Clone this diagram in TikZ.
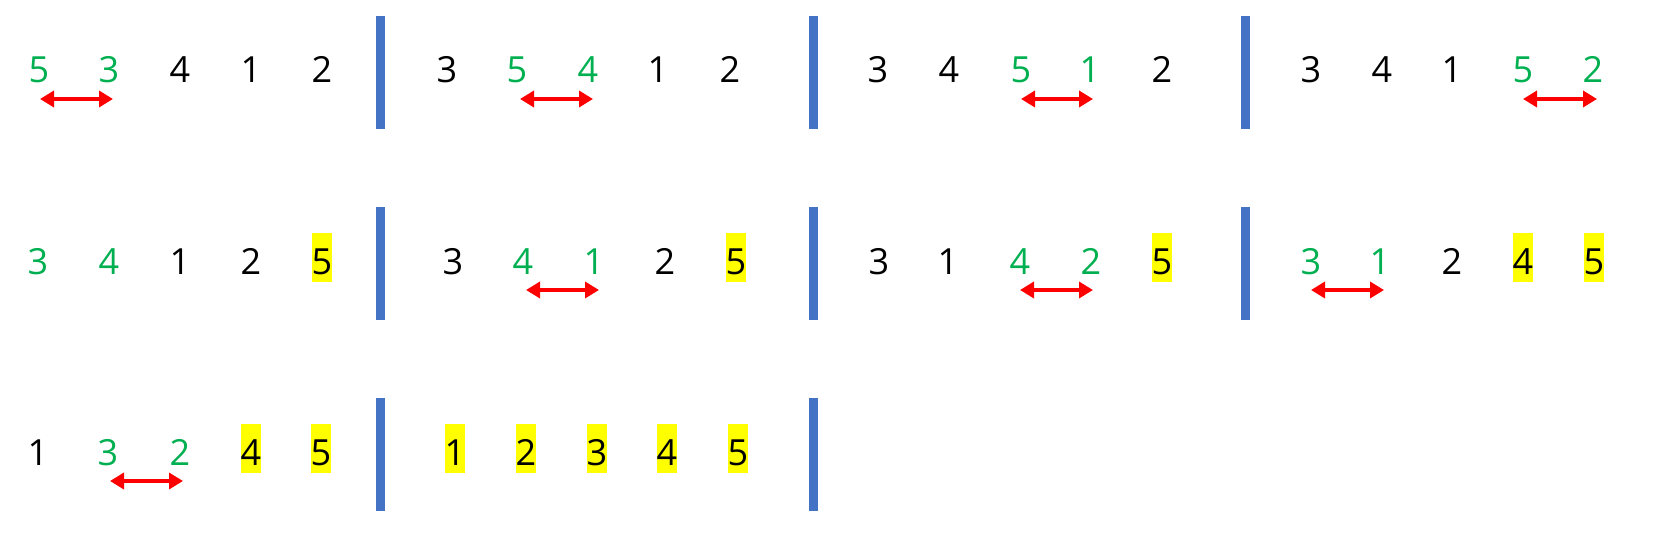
\documentclass[tikz,border=0pt]{standalone}
\usepackage{fontspec}
\setmainfont{Open Sans}
\usetikzlibrary{arrows.meta}
\definecolor{grn}{HTML}{00B050}
\definecolor{barblue}{HTML}{4472C4}
\definecolor{hlyellow}{HTML}{FFFF00}
\definecolor{arrred}{HTML}{FF0000}
\tikzset{
  dig/.style={anchor=base, inner sep=0pt, minimum width=20pt, text height=41pt, text depth=7.5pt, font=\fontsize{36}{40}\selectfont, text=black},
  gd/.style={dig, text=grn},
  hl/.style={dig, fill=hlyellow},
  sepbar/.style={fill=barblue, inner sep=0pt, minimum width=9pt, minimum height=113pt, anchor=north},
  swaparrow/.style={draw=arrred, line width=4.5pt, {Triangle[length=14pt,width=16pt]}-{Triangle[length=14pt,width=16pt]}}
}
\begin{document}
\begin{tikzpicture}[x=1pt,y=-1pt]
\useasboundingbox (0,0) rectangle (1660,540);
% ---------- row 1 ----------
\node[sepbar] (b11) at (380,16) {};
\node[sepbar] (b12) at (813,16) {};
\node[sepbar] (b13) at (1245,16) {};
\node[gd] (r1a1) at (39,83) {5};
\node[gd] (r1a2) at (109,83) {3};
\node[dig] (r1a3) at (180,83) {4};
\node[dig] (r1a4) at (251,83) {1};
\node[dig] (r1a5) at (322,83) {2};
\node[dig] (r1b1) at (447,83) {3};
\node[gd] (r1b2) at (517,83) {5};
\node[gd] (r1b3) at (588,83) {4};
\node[dig] (r1b4) at (658,83) {1};
\node[dig] (r1b5) at (730,83) {2};
\node[dig] (r1c1) at (878,83) {3};
\node[dig] (r1c2) at (949,83) {4};
\node[gd] (r1c3) at (1021,83) {5};
\node[gd] (r1c4) at (1090,83) {1};
\node[dig] (r1c5) at (1162,83) {2};
\node[dig] (r1d1) at (1311,83) {3};
\node[dig] (r1d2) at (1382,83) {4};
\node[dig] (r1d3) at (1452,83) {1};
\node[gd] (r1d4) at (1523,83) {5};
\node[gd] (r1d5) at (1593,83) {2};
\draw[swaparrow] ([xshift=1pt,yshift=-16pt]r1a1.base) -- ([xshift=4pt,yshift=-16pt]r1a2.base);
\draw[swaparrow] ([xshift=3pt,yshift=-16pt]r1b2.base) -- ([xshift=5pt,yshift=-16pt]r1b3.base);
\draw[swaparrow] ([xshift=0pt,yshift=-16pt]r1c3.base) -- ([xshift=3pt,yshift=-16pt]r1c4.base);
\draw[swaparrow] ([xshift=0pt,yshift=-16pt]r1d4.base) -- ([xshift=4pt,yshift=-16pt]r1d5.base);
% ---------- row 2 ----------
\node[sepbar] (b21) at (380,207) {};
\node[sepbar] (b22) at (813,207) {};
\node[sepbar] (b23) at (1245,207) {};
\node[gd] (r2a1) at (38,274) {3};
\node[gd] (r2a2) at (109,274) {4};
\node[dig] (r2a3) at (180,274) {1};
\node[dig] (r2a4) at (251,274) {2};
\node[hl] (r2a5) at (322,274) {5};
\node[dig] (r2b1) at (453,274) {3};
\node[gd] (r2b2) at (523,274) {4};
\node[gd] (r2b3) at (594,274) {1};
\node[dig] (r2b4) at (665,274) {2};
\node[hl] (r2b5) at (736,274) {5};
\node[dig] (r2c1) at (879,274) {3};
\node[dig] (r2c2) at (948,274) {1};
\node[gd] (r2c3) at (1020,274) {4};
\node[gd] (r2c4) at (1091,274) {2};
\node[hl] (r2c5) at (1162,274) {5};
\node[gd] (r2d1) at (1311,274) {3};
\node[gd] (r2d2) at (1380,274) {1};
\node[dig] (r2d3) at (1452,274) {2};
\node[hl] (r2d4) at (1523,274) {4};
\node[hl] (r2d5) at (1594,274) {5};
\draw[swaparrow] ([xshift=3pt,yshift=-16pt]r2b2.base) -- ([xshift=5pt,yshift=-16pt]r2b3.base);
\draw[swaparrow] ([xshift=0pt,yshift=-16pt]r2c3.base) -- ([xshift=2pt,yshift=-16pt]r2c4.base);
\draw[swaparrow] ([xshift=0pt,yshift=-16pt]r2d1.base) -- ([xshift=4pt,yshift=-16pt]r2d2.base);
% ---------- row 3 ----------
\node[sepbar] (b31) at (380,398) {};
\node[sepbar] (b32) at (813,398) {};
\node[dig] (r3a1) at (38,465) {1};
\node[gd] (r3a2) at (108,465) {3};
\node[gd] (r3a3) at (180,465) {2};
\node[hl] (r3a4) at (251,465) {4};
\node[hl] (r3a5) at (321,465) {5};
\node[hl] (r3b1) at (455,465) {1};
\node[hl] (r3b2) at (526,465) {2};
\node[hl] (r3b3) at (597,465) {3};
\node[hl] (r3b4) at (667,465) {4};
\node[hl] (r3b5) at (738,465) {5};
\draw[swaparrow] ([xshift=2pt,yshift=-16pt]r3a2.base) -- ([xshift=3pt,yshift=-16pt]r3a3.base);
\end{tikzpicture}
\end{document}
